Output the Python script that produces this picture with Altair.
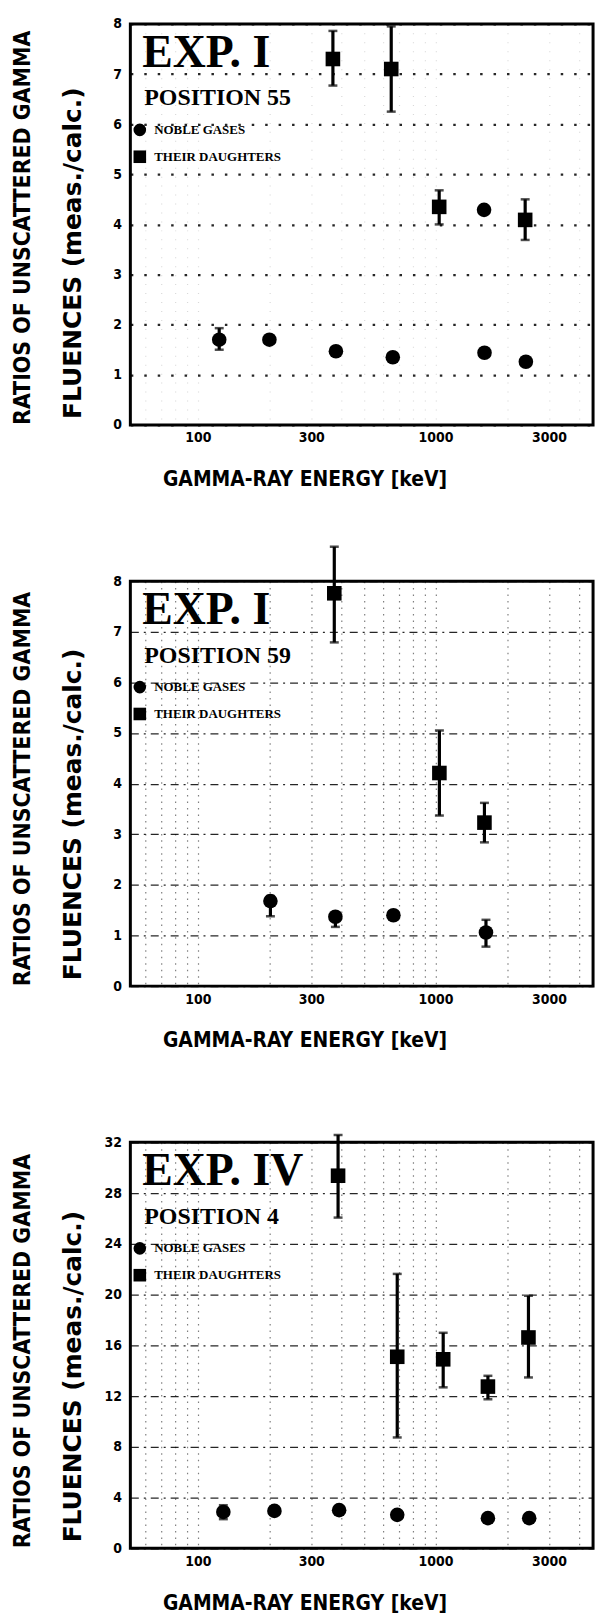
import altair as alt
import pandas as pd

# ---------------- shared labels ----------------
SERIES = ["NOBLE GASES", "THEIR DAUGHTERS"]
X_GRID = [60, 70, 80, 90, 100, 200, 300, 400, 500, 600, 700, 800, 900, 1000, 2000, 3000, 4000]
X_LABELS = [100, 300, 1000, 3000]
X_TITLE = "GAMMA-RAY ENERGY [keV]"
Y_TITLE_1 = "RATIOS OF UNSCATTERED GAMMA"
Y_TITLE_2 = "FLUENCES (meas./calc.)"

# ---------------- panel 1 ----------------
p1_exp = "EXP. I"
p1_pos = "POSITION 55"
p1_y_ticks = [0, 1, 2, 3, 4, 5, 6, 7, 8]
p1_gas_e = [123, 200, 381, 661, 1600, 1607, 2399]
p1_gas_r = [1.70, 1.70, 1.47, 1.35, 4.29, 1.44, 1.26]
p1_gas_lo = [1.50, None, None, None, None, None, None]
p1_gas_hi = [1.93, None, None, None, None, None, None]
p1_dau_e = [370, 651, 1036, 2383]
p1_dau_r = [7.30, 7.10, 4.35, 4.09]
p1_dau_lo = [6.77, 6.25, 4.00, 3.69]
p1_dau_hi = [7.86, 7.95, 4.68, 4.50]

# ---------------- panel 2 ----------------
p2_exp = "EXP. I"
p2_pos = "POSITION 59"
p2_y_ticks = [0, 1, 2, 3, 4, 5, 6, 7, 8]
p2_gas_e = [202, 379, 665, 1630]
p2_gas_r = [1.68, 1.37, 1.40, 1.06]
p2_gas_lo = [1.38, 1.17, None, 0.78]
p2_gas_hi = [1.78, 1.45, None, 1.31]
p2_dau_e = [375, 1038, 1606]
p2_dau_r = [7.76, 4.21, 3.23]
p2_dau_lo = [6.79, 3.37, 2.84]
p2_dau_hi = [8.68, 5.05, 3.62]

# ---------------- panel 3 ----------------
p3_exp = "EXP. IV"
p3_pos = "POSITION 4"
p3_y_ticks = [0, 4, 8, 12, 16, 20, 24, 28, 32]
p3_gas_e = [128, 210, 393, 690, 1661, 2478]
p3_gas_r = [2.87, 2.95, 3.01, 2.64, 2.38, 2.38]
p3_gas_lo = [2.30, None, None, None, None, None]
p3_gas_hi = [3.40, None, None, None, None, None]
p3_dau_e = [389, 690, 1077, 1661, 2460]
p3_dau_r = [29.37, 15.10, 14.90, 12.75, 16.62]
p3_dau_lo = [26.07, 8.74, 12.69, 11.75, 13.47]
p3_dau_hi = [32.58, 21.63, 16.99, 13.60, 19.91]

SANS_C = "DejaVu Sans Condensed, Liberation Sans Narrow, DejaVu Sans, sans-serif"
SANS = "DejaVu Sans, sans-serif"
SERIF = "Liberation Serif, DejaVu Serif, serif"

PLOT_W = 465
X_DOMAIN = [52, 4600]


def frames(gas_e, gas_r, gas_lo, gas_hi, dau_e, dau_r, dau_lo, dau_hi):
    pts = pd.DataFrame({
        "E": gas_e + dau_e,
        "R": gas_r + dau_r,
        "series": [SERIES[0]] * len(gas_e) + [SERIES[1]] * len(dau_e),
    })
    rows = []
    for e, lo, hi in zip(gas_e + dau_e, gas_lo + dau_lo, gas_hi + dau_hi):
        if lo is not None and hi is not None:
            rows.append({"E": e, "lo": lo, "hi": hi})
    err = pd.DataFrame(rows)
    return pts, err


def panel(pts, err, y_ticks, height, exp, pos, xgrid, ygrid):
    xscale = alt.Scale(type="log", domain=X_DOMAIN, nice=False)
    yscale = alt.Scale(domain=[y_ticks[0], y_ticks[-1]], nice=False, zero=False)
    label_expr = f"indexof({X_LABELS}, datum.value) >= 0 ? format(datum.value, 'd') : ''"
    xaxis = alt.Axis(
        values=X_GRID, labelExpr=label_expr, title=X_TITLE,
        titleX=175, titleY=55, titleAlign="center", titleBaseline="middle",
        titleFont=SANS_C, titleFontSize=21, titleFontWeight="bold", titleColor="black",
        labelFont=SANS_C, labelFontSize=14, labelFontWeight="bold", labelColor="black",
        labelPadding=6, labelOverlap=False, labelFlush=False,
        ticks=False, domain=False, grid=True, gridDash=xgrid["dash"],
        gridColor="black", gridWidth=xgrid["width"], gridOpacity=xgrid["op"],
    )
    yaxis = alt.Axis(
        values=y_ticks, title=None,
        labelFont=SANS_C, labelFontSize=14, labelFontWeight="bold", labelColor="black",
        labelPadding=9, ticks=False, domain=False, grid=True, gridDash=ygrid["dash"],
        gridColor="black", gridWidth=ygrid["width"], gridOpacity=ygrid["op"],
    )
    x_enc = alt.X("E:Q", scale=xscale, axis=xaxis)

    points = alt.Chart(pts).mark_point(filled=True, opacity=1, color="black", size=215).encode(
        x=x_enc,
        y=alt.Y("R:Q", scale=yscale, axis=yaxis),
        shape=alt.Shape(
            "series:N",
            scale=alt.Scale(domain=SERIES, range=["circle", "square"]),
            legend=alt.Legend(
                title=None, orient="none", legendX=3, legendY=100, padding=0,
                symbolSize=160, symbolFillColor="black", symbolStrokeWidth=0,
                labelFont=SERIF, labelFontSize=13, labelFontWeight="bold",
                labelColor="black", labelOffset=8, rowPadding=13,
            ),
        ),
    )
    rules = alt.Chart(err).mark_rule(color="black", strokeWidth=3.2).encode(
        x="E:Q", y="lo:Q", y2="hi:Q")
    cap_lo = alt.Chart(err).mark_tick(color="black", thickness=2.5, size=9, orient="horizontal").encode(
        x="E:Q", y="lo:Q")
    cap_hi = alt.Chart(err).mark_tick(color="black", thickness=2.5, size=9, orient="horizontal").encode(
        x="E:Q", y="hi:Q")

    exp_txt = alt.Chart(pd.DataFrame({"t": [exp]})).mark_text(
        align="left", baseline="alphabetic", font=SERIF, fontWeight="bold",
        fontSize=46, color="black").encode(text="t:N", x=alt.value(12), y=alt.value(43))
    pos_txt = alt.Chart(pd.DataFrame({"t": [pos]})).mark_text(
        align="left", baseline="alphabetic", font=SERIF, fontWeight="bold",
        fontSize=24, color="black").encode(text="t:N", x=alt.value(14), y=alt.value(82))
    yt1 = alt.Chart(pd.DataFrame({"t": [Y_TITLE_1]})).mark_text(
        angle=270, align="left", baseline="middle", font=SANS_C, fontWeight="bold",
        fontSize=23, color="black").encode(text="t:N", x=alt.value(-108), y=alt.value(height))
    yt2 = alt.Chart(pd.DataFrame({"t": [Y_TITLE_2]})).mark_text(
        angle=270, align="left", baseline="middle", font=SANS, fontWeight="bold",
        fontSize=25, color="black").encode(text="t:N", x=alt.value(-58), y=alt.value(height - 6))

    return alt.layer(rules, cap_lo, cap_hi, points, exp_txt, pos_txt, yt1, yt2).properties(
        width=PLOT_W, height=height)


d1 = frames(p1_gas_e, p1_gas_r, p1_gas_lo, p1_gas_hi, p1_dau_e, p1_dau_r, p1_dau_lo, p1_dau_hi)
d2 = frames(p2_gas_e, p2_gas_r, p2_gas_lo, p2_gas_hi, p2_dau_e, p2_dau_r, p2_dau_lo, p2_dau_hi)
d3 = frames(p3_gas_e, p3_gas_r, p3_gas_lo, p3_gas_hi, p3_dau_e, p3_dau_r, p3_dau_lo, p3_dau_hi)

faint_x = {"dash": [1, 8], "width": 1.2, "op": 0.15}
dots_y = {"dash": [2.5, 11], "width": 2.2, "op": 0.85}
dot_x = {"dash": [1.5, 5], "width": 1.2, "op": 0.5}
dashdot_y = {"dash": [8, 5, 2, 5], "width": 1.3, "op": 0.85}

c1 = panel(d1[0], d1[1], p1_y_ticks, 403, p1_exp, p1_pos, faint_x, dots_y)
c2 = panel(d2[0], d2[1], p2_y_ticks, 407, p2_exp, p2_pos, dot_x, dashdot_y)
c3 = panel(d3[0], d3[1], p3_y_ticks, 408, p3_exp, p3_pos, dot_x, dashdot_y)

chart = alt.vconcat(c1, c2, c3, spacing=157, bounds="flush").resolve_scale(
    shape="independent").resolve_legend(shape="independent").properties(
    padding={"left": 10, "top": 11, "right": 10, "bottom": 3},
    background="white",
).configure_view(stroke="black", strokeWidth=3)

chart.save("out.html", embed_options={"renderer": "svg", "actions": False})
